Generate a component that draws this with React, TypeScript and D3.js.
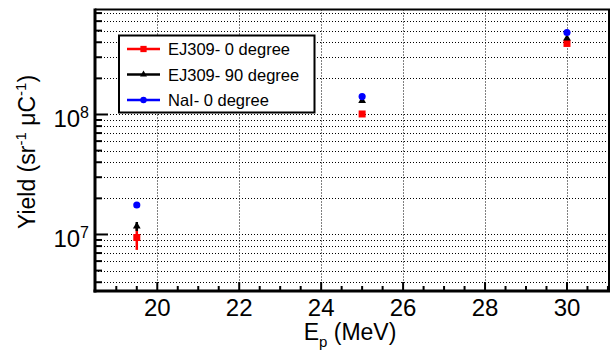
import React, { useEffect, useRef } from "react";
import * as d3 from "d3";

// beam energies (MeV)
const energies = [19.5, 25, 30];

// yields (sr^-1 uC^-1)
const ej309Deg0 = [9.44e6, 1.01e8, 3.91e8];
const ej309Deg0Err = [2.0e6, 3.0e6, 1.0e7];
const ej309Deg90 = [1.17e7, 1.3e8, 4.31e8];
const ej309Deg90Err = [1.0e6, 3.0e6, 1.0e7];
const naiDeg0 = [1.76e7, 1.41e8, 4.82e8];
const naiDeg0Err = [3.0e5, 2.0e6, 6.0e6];

const xMajorTicks = [20, 22, 24, 26, 28, 30];
const yDecades = [7, 8];

const seriesNames = ["EJ309- 0 degree", "EJ309- 90 degree", "NaI- 0 degree"];

const W = 611;
const H = 350;
const FONT = "'Liberation Sans', Arial, Helvetica, sans-serif";

const App = () => {
  const svgRef = useRef<SVGSVGElement | null>(null);

  useEffect(() => {
    const svg = d3.select(svgRef.current).attr("width", W).attr("height", H);
    svg.selectAll("*").remove();

    const left = 95;
    const right = 610;
    const top = 9.5;
    const bottom = 291;

    const x = d3.scaleLinear().domain([18.48, 31.05]).range([left, right]);
    const y = d3.scaleLog().domain([3.38e6, 7.5e8]).range([bottom, top]);

    svg.append("rect").attr("width", W).attr("height", H).attr("fill", "#fff");

    // y ticks: every 1..9 x 10^n inside range
    const yMinor: number[] = [];
    for (let e = 6; e <= 8; e++) {
      for (let m = 1; m <= 9; m++) {
        const v = m * Math.pow(10, e);
        if (v > y.domain()[0] && v < y.domain()[1]) yMinor.push(v);
      }
    }
    const xMinor = d3.range(18.5, 31.01, 0.5);

    const grid = svg.append("g").attr("stroke", "#000").attr("stroke-width", 1).attr("stroke-dasharray", "1,2");
    yMinor.forEach((v) => {
      grid.append("line").attr("x1", left).attr("x2", right).attr("y1", Math.round(y(v)) + 0.5).attr("y2", Math.round(y(v)) + 0.5);
    });
    xMajorTicks.forEach((v) => {
      grid.append("line").attr("x1", Math.round(x(v)) + 0.5).attr("x2", Math.round(x(v)) + 0.5).attr("y1", top).attr("y2", bottom);
    });

    // frame
    const frame = svg.append("g").attr("stroke", "#000").attr("fill", "none");
    frame.append("line").attr("x1", left).attr("x2", right).attr("y1", top).attr("y2", top).attr("stroke-width", 2);
    frame.append("line").attr("x1", right - 1).attr("x2", right - 1).attr("y1", top).attr("y2", bottom).attr("stroke-width", 2);
    frame.append("line").attr("x1", left).attr("x2", left).attr("y1", top - 1).attr("y2", bottom + 1.5).attr("stroke-width", 3);
    frame.append("line").attr("x1", left - 1.5).attr("x2", right).attr("y1", bottom).attr("y2", bottom).attr("stroke-width", 3);

    // ticks
    const ticks = svg.append("g").attr("stroke", "#000").attr("stroke-width", 2);
    yMinor.forEach((v) => {
      const isMajor = yDecades.some((d) => Math.abs(Math.log10(v) - d) < 1e-9);
      ticks.append("line").attr("x1", left).attr("x2", left + (isMajor ? 13 : 7)).attr("y1", y(v)).attr("y2", y(v));
    });
    xMinor.forEach((v) => {
      if (x(v) <= left + 1 || x(v) >= right - 1) return;
      const isMajor = xMajorTicks.includes(v);
      ticks.append("line").attr("x1", x(v)).attr("x2", x(v)).attr("y1", bottom).attr("y2", bottom - (isMajor ? 9 : 5));
    });

    // tick labels
    xMajorTicks.forEach((v) => {
      svg.append("text").attr("x", x(v)).attr("y", 315.5).attr("text-anchor", "middle")
        .attr("font-family", FONT).attr("font-size", 24).attr("fill", "#000").text(v);
    });
    yDecades.forEach((d) => {
      const t = svg.append("text").attr("x", 89).attr("y", y(Math.pow(10, d)) + 12.5).attr("text-anchor", "end")
        .attr("font-family", FONT).attr("font-size", 24).attr("fill", "#000");
      t.append("tspan").text("10");
      t.append("tspan").attr("dy", -9).attr("font-size", 16).text(d);
    });

    // axis titles
    const xt = svg.append("text").attr("x", 350).attr("y", 340).attr("text-anchor", "middle")
      .attr("font-family", FONT).attr("font-size", 23).attr("fill", "#000");
    xt.append("tspan").text("E");
    xt.append("tspan").attr("dy", 7).attr("font-size", 15).text("p");
    xt.append("tspan").attr("dy", -7).text(" (MeV)");

    const yt = svg.append("text").attr("transform", "translate(35,152) rotate(-90)").attr("text-anchor", "middle")
      .attr("font-family", FONT).attr("font-size", 23).attr("fill", "#000");
    yt.append("tspan").text("Yield (sr");
    yt.append("tspan").attr("dy", -9).attr("font-size", 15).text("-1");
    yt.append("tspan").attr("dy", 9).text(" \u03bcC");
    yt.append("tspan").attr("dy", -9).attr("font-size", 15).text("-1");
    yt.append("tspan").attr("dy", 9).text(")");

    // data
    const series = [
      { vals: ej309Deg0, errs: ej309Deg0Err, color: "#ff0000", marker: d3.symbolSquare, size: 49 },
      { vals: ej309Deg90, errs: ej309Deg90Err, color: "#000000", marker: d3.symbolTriangle, size: 26 },
      { vals: naiDeg0, errs: naiDeg0Err, color: "#0000ff", marker: d3.symbolCircle, size: 40 },
    ];

    const dataG = svg.append("g");
    series.forEach((s) => {
      energies.forEach((e, i) => {
        const cx = x(e);
        dataG.append("line").attr("x1", cx).attr("x2", cx)
          .attr("y1", y(s.vals[i] - s.errs[i])).attr("y2", y(s.vals[i] + s.errs[i]))
          .attr("stroke", s.color).attr("stroke-width", 2.5);
        dataG.append("path").attr("d", d3.symbol().type(s.marker).size(s.size)())
          .attr("transform", `translate(${cx},${y(s.vals[i])})`).attr("fill", s.color);
      });
    });

    // legend
    const lg = svg.append("g");
    lg.append("rect").attr("x", 119).attr("y", 35.5).attr("width", 195.5).attr("height", 77)
      .attr("fill", "#fff").attr("stroke", "#000").attr("stroke-width", 2);
    const rowY = [49, 74.5, 100];
    series.forEach((s, i) => {
      const ry = rowY[i];
      lg.append("line").attr("x1", 127).attr("x2", 160).attr("y1", ry).attr("y2", ry)
        .attr("stroke", s.color).attr("stroke-width", 2.5);
      lg.append("path").attr("d", d3.symbol().type(s.marker).size(s.size * 0.8)())
        .attr("transform", `translate(143.5,${ry})`).attr("fill", s.color);
      lg.append("text").attr("x", 168).attr("y", ry + 6).attr("font-family", FONT).attr("font-size", 16.5)
        .attr("fill", "#000").text(seriesNames[i]);
    });
  }, []);

  return <svg ref={svgRef} style={{ position: "absolute", left: 0, top: 0 }}></svg>;
};

export default App;
